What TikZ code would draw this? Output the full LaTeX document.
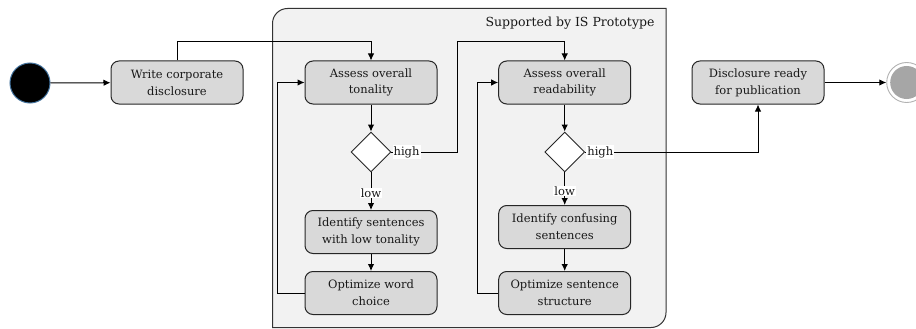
\documentclass[tikz,border=0pt]{standalone}
\usepackage{fontspec}
\setmainfont{DejaVu Serif}
\usetikzlibrary{arrows.meta,shapes.geometric}
\definecolor{boxfill}{HTML}{D9D9D9}
\definecolor{panelfill}{HTML}{F2F2F2}
\definecolor{startedge}{HTML}{41719C}
\begin{document}
\begin{tikzpicture}[x=1pt,y=-1pt,
  txt/.style={font=\fontsize{11.5}{16.8}\selectfont, text=black!90},
  act/.style={txt, draw=black!85, fill=boxfill, rounded corners=8pt, minimum width=132pt, minimum height=43pt, align=center, inner sep=0pt, line width=1pt},
  dec/.style={diamond, draw=black!85, fill=white, minimum width=40pt, minimum height=40pt, inner sep=0pt, line width=0.9pt},
  arr/.style={draw=black, line width=1pt, -{Latex[length=7pt,width=6.5pt]}},
  lab/.style={txt, fill=white, inner sep=1pt}
]
\useasboundingbox (0,0) rectangle (916,329);
% panel
\draw[fill=panelfill, draw=black!80, line width=1pt]
  (272.5,327.5) -- (272.5,23.5) .. controls (272.5,15.2) and (279.2,8.5) .. (287.5,8.5)
  -- (666,8.5) -- (666,312.5) .. controls (666,320.8) and (659.3,327.5) .. (651,327.5) -- cycle;
\node[txt, anchor=east, font=\fontsize{12.5}{15}\selectfont] (panellbl) at (658,23) {Supported by IS Prototype};

% nodes
\node[circle, fill=black, draw=startedge, line width=1pt, minimum size=40pt, inner sep=0pt] (start) at (30,83) {};
\node[act] (write) at (177,82.5) {Write corporate\\disclosure};
\node[act] (tone) at (371,82.5) {Assess overall\\tonality};
\node[dec] (d1) at (371,152) {};
\node[act] (idlow) at (371,232) {Identify sentences\\with low tonality};
\node[act] (optw) at (371,293) {Optimize word\\choice};
\node[act] (read) at (564.7,82.5) {Assess overall\\readability};
\node[dec] (d2) at (564.7,152) {};
\node[act] (idconf) at (564.7,227) {Identify confusing\\sentences};
\node[act] (opts) at (564.7,293) {Optimize sentence\\structure};
\node[act] (ready) at (758,82.5) {Disclosure ready\\for publication};
\node[circle, draw=black!30, fill=white, line width=0.9pt, minimum size=40pt, inner sep=0pt] (end) at (906.7,82.5) {};
\fill[black!35] (end.center) circle (16.5);

% connectors
\coordinate (b0) at (177,41.5);
\coordinate (b1) at (457.5,41.5);
\draw[arr] (start) -- (write);
\draw[arr] (write.north) -- (b0) -| (tone.north);
\draw[arr] (tone) -- (d1);
\draw[arr] (d1.east) -| (b1) -| (read.north);
\draw[arr] (d1.south) -- (idlow.north);
\draw[arr] (idlow) -- (optw);
\draw[arr] (optw.west) -- ++(-27.5,0) |- (tone.west);
\draw[arr] (read) -- (d2);
\draw[arr] (d2.east) -| (ready.south);
\draw[arr] (d2.south) -- (idconf.north);
\draw[arr] (idconf) -- (opts);
\draw[arr] (opts.west) -- ++(-20.5,0) |- (read.west);
\draw[arr] (ready) -- (end);

% labels
\node[lab, anchor=west] (h1) at ([xshift=1pt]d1.east) {high};
\node[lab, anchor=west] (h2) at ([xshift=1pt]d2.east) {high};
\node[lab] (l1) at (371,193) {low};
\node[lab] (l2) at (564.7,191) {low};
\end{tikzpicture}
\end{document}
